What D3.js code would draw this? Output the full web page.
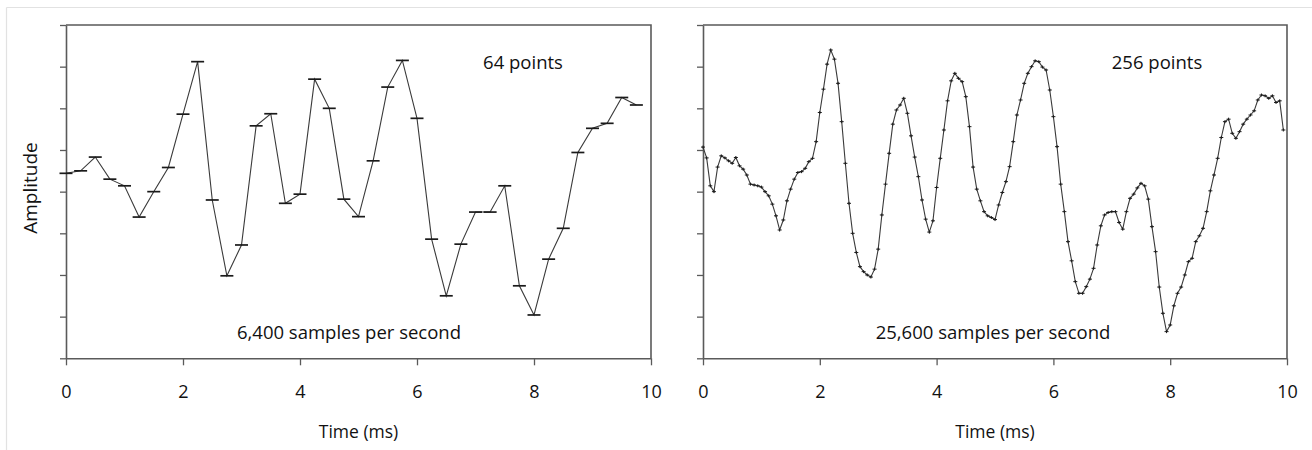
<!DOCTYPE html>
<html>
<head>
<meta charset="utf-8">
<script src="https://cdn.jsdelivr.net/npm/d3@7"></script>
<style>
  body { margin: 0; background: #fff; }
  text { font-family: "Open Sans", "Noto Sans", sans-serif; fill: #111; }
</style>
</head>
<body>
<div id="chart"></div>
<script>
const lowRate = [0.44, 0.50, 0.83, 0.30, 0.14, -0.61, 0.00, 0.58, 1.86, 3.12,
  -0.20, -2.02, -1.28, 1.58, 1.87, -0.28, -0.06, 2.70, 2.00, -0.18,
  -0.60, 0.74, 2.51, 3.15, 1.76, -1.14, -2.50, -1.26, -0.49, -0.49,
  0.14, -2.26, -2.96, -1.62, -0.88, 0.94, 1.52, 1.64, 2.26, 2.08];

const highRate = [1.07, 0.81, 0.14, 0.00, 0.59, 0.86, 0.81, 0.74, 0.68, 0.82,
  0.62, 0.54, 0.40, 0.18, 0.16, 0.14, 0.11, 0.00, -0.10, -0.30,
  -0.58, -0.92, -0.68, -0.22, 0.06, 0.30, 0.46, 0.48, 0.56, 0.72,
  0.80, 1.20, 1.90, 2.46, 3.06, 3.40, 3.18, 2.60, 1.68, 0.68,
  -0.28, -1.00, -1.46, -1.80, -1.92, -2.00, -2.05, -1.86, -1.38, -0.56,
  0.18, 0.92, 1.62, 1.96, 2.08, 2.24, 1.88, 1.34, 0.83, 0.36,
  -0.20, -0.66, -0.97, -0.70, 0.10, 0.80, 1.48, 2.18, 2.66, 2.84,
  2.72, 2.64, 2.28, 1.56, 0.59, 0.06, -0.22, -0.48, -0.58, -0.62,
  -0.67, -0.32, -0.02, 0.24, 0.60, 1.20, 1.84, 2.20, 2.60, 2.84,
  3.00, 3.14, 3.12, 2.99, 2.92, 2.44, 1.80, 1.08, 0.18, -0.48,
  -1.20, -1.66, -2.16, -2.44, -2.44, -2.28, -2.10, -1.84, -1.28, -0.82,
  -0.56, -0.50, -0.48, -0.48, -0.74, -0.90, -0.48, -0.16, -0.06, 0.09,
  0.20, 0.14, -0.18, -0.84, -1.44, -2.29, -2.92, -3.36, -3.20, -2.74,
  -2.44, -2.29, -2.00, -1.68, -1.60, -1.20, -1.06, -0.88, -0.48, 0.02,
  0.40, 0.80, 1.30, 1.68, 1.74, 1.40, 1.28, 1.44, 1.62, 1.74,
  1.84, 1.94, 2.20, 2.32, 2.30, 2.24, 2.30, 2.14, 2.18, 1.48];

const xTicks = [0, 2, 4, 6, 8, 10];
const yTicks = [-4, -3, -2, -1, 0, 1, 2, 3, 4];
const panelInfo = [
  {pointsLabel: "64 points", rateLabel: "6,400 samples per second", step: 0.25},
  {pointsLabel: "256 points", rateLabel: "25,600 samples per second", step: 0.0625}
];

const width = 1312, height = 450;
const svg = d3.select("#chart").append("svg")
  .attr("width", width)
  .attr("height", height);

// faint outer frame
svg.append("line").attr("x1", 6.5).attr("x2", width).attr("y1", 7.5).attr("y2", 7.5)
  .attr("stroke", "#e2e2e2").attr("stroke-width", 1.2);
svg.append("line").attr("x1", 6.5).attr("x2", 6.5).attr("y1", 7.5).attr("y2", height)
  .attr("stroke", "#e2e2e2").attr("stroke-width", 1.2);

const panels = [
  {left: 66, right: 651, data: lowRate, info: panelInfo[0], big: true, ptsX: 523, rateX: 349},
  {left: 703, right: 1287, data: highRate, info: panelInfo[1], big: false, ptsX: 1157, rateX: 993}
];
const plotTop = 25, plotBottom = 358.3;

let y = d3.scaleLinear().domain([-4, 4]).range([plotBottom, plotTop]);

panels.forEach(function(p) {
  let x = d3.scaleLinear().domain([0, 10]).range([p.left, p.right]);
  let g = svg.append("g");

  // frame top + right
  g.append("path")
    .attr("d", "M" + p.left + "," + plotTop + "H" + p.right + "V" + plotBottom)
    .attr("fill", "none").attr("stroke", "#5a5a5a").attr("stroke-width", 1.6);

  let yAxis = g.append("g")
    .attr("transform", "translate(" + p.left + ",0)")
    .call(d3.axisLeft(y).tickValues(yTicks).tickSize(6).tickSizeOuter(0).tickFormat(""));
  let xAxis = g.append("g")
    .attr("transform", "translate(0," + plotBottom + ")")
    .call(d3.axisBottom(x).tickValues(xTicks).tickSize(7).tickSizeOuter(0).tickPadding(20));

  [yAxis, xAxis].forEach(function(a) {
    a.select(".domain").attr("stroke", "#5a5a5a").attr("stroke-width", 1.6);
    a.selectAll(".tick line").attr("stroke", "#5a5a5a").attr("stroke-width", 1.3);
  });
  xAxis.selectAll(".tick text")
    .style("font-family", "'Open Sans', sans-serif")
    .style("font-size", "18px")
    .attr("fill", "#111");

  let pts = p.data.map(function(v, i) { return {t: i * p.info.step, v: v}; });

  g.append("path")
    .datum(pts)
    .attr("fill", "none")
    .attr("stroke", "#3a3a3a")
    .attr("stroke-width", 1.1)
    .attr("d", d3.line().x(function(d) { return x(d.t); }).y(function(d) { return y(d.v); }));

  if (p.big) {
    g.selectAll(".mark").data(pts).enter().append("line")
      .attr("class", "mark")
      .attr("x1", function(d) { return x(d.t) - 6.5; })
      .attr("x2", function(d) { return x(d.t) + 6.5; })
      .attr("y1", function(d) { return y(d.v); })
      .attr("y2", function(d) { return y(d.v); })
      .attr("stroke", "#1a1a1a").attr("stroke-width", 1.7);
  } else {
    g.selectAll(".mark").data(pts).enter().append("path")
      .attr("class", "mark")
      .attr("d", function(d) {
        let cx = x(d.t), cy = y(d.v);
        return "M" + (cx - 2) + "," + cy + "H" + (cx + 2) + "M" + cx + "," + (cy - 1.5) + "V" + (cy + 1.5);
      })
      .attr("stroke", "#1a1a1a").attr("stroke-width", 1);
  }

  let mid = (p.left + p.right) / 2;
  g.append("text").attr("x", p.ptsX).attr("y", 69)
    .attr("text-anchor", "middle").style("font-size", "18.5px")
    .text(p.info.pointsLabel);
  g.append("text").attr("x", p.rateX).attr("y", 339)
    .attr("text-anchor", "middle").style("font-size", "18.5px")
    .text(p.info.rateLabel);
  g.append("text").attr("x", mid).attr("y", 438)
    .attr("text-anchor", "middle").style("font-size", "17.5px")
    .text("Time (ms)");
});

svg.append("text")
  .attr("transform", "translate(37,188) rotate(-90)")
  .attr("text-anchor", "middle")
  .style("font-size", "19px")
  .text("Amplitude");
</script>
</body>
</html>
